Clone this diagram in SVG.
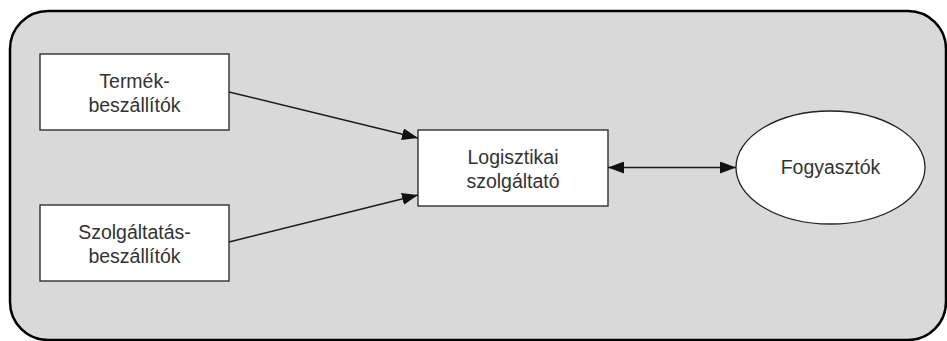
<svg xmlns="http://www.w3.org/2000/svg" width="947" height="341" viewBox="0 0 947 341">
  <style>
    .frame { fill: #d9d9d9; stroke: #000; stroke-width: 2.5; }
    .box { fill: #fff; stroke: #222; stroke-width: 1.3; }
    .label { font-family: "Liberation Sans", Arial, sans-serif; font-size: 19.5px; fill: #333; text-anchor: middle; }
    .link { stroke: #1a1a1a; stroke-width: 1.5; fill: none; }
  </style>
  <defs>
    <marker id="head" viewBox="0 0 16 12" refX="16" refY="6" markerWidth="16" markerHeight="12" markerUnits="userSpaceOnUse" orient="auto-start-reverse">
      <path d="M0,0 L16,6 L0,12 Z" fill="#111"/>
    </marker>
  </defs>

  <!-- surrounding panel -->
  <rect class="frame" x="10" y="11" width="936" height="329" rx="38" ry="38"/>

  <g id="connectors">
    <line class="link" x1="229" y1="92" x2="418" y2="138" marker-end="url(#head)"/>
    <line class="link" x1="229" y1="242" x2="418" y2="195" marker-end="url(#head)"/>
    <line class="link" x1="608" y1="167.5" x2="736" y2="167.5" marker-start="url(#head)" marker-end="url(#head)"/>
  </g>

  <g id="termek-beszallitok">
    <rect class="box" x="40" y="54" width="189" height="76"/>
    <text class="label" x="134.5" y="88">Termék-</text>
    <text class="label" x="134.5" y="112">beszállítók</text>
  </g>

  <g id="szolgaltatas-beszallitok">
    <rect class="box" x="40" y="205" width="189" height="76"/>
    <text class="label" x="134.5" y="239">Szolgáltatás-</text>
    <text class="label" x="134.5" y="263">beszállítók</text>
  </g>

  <g id="logisztikai-szolgaltato">
    <rect class="box" x="418" y="130" width="190" height="76"/>
    <text class="label" x="513" y="164">Logisztikai</text>
    <text class="label" x="513" y="188">szolgáltató</text>
  </g>

  <g id="fogyasztok">
    <ellipse class="box" cx="830.5" cy="167.5" rx="94.5" ry="56.5"/>
    <text class="label" x="830.5" y="174">Fogyasztók</text>
  </g>
</svg>
